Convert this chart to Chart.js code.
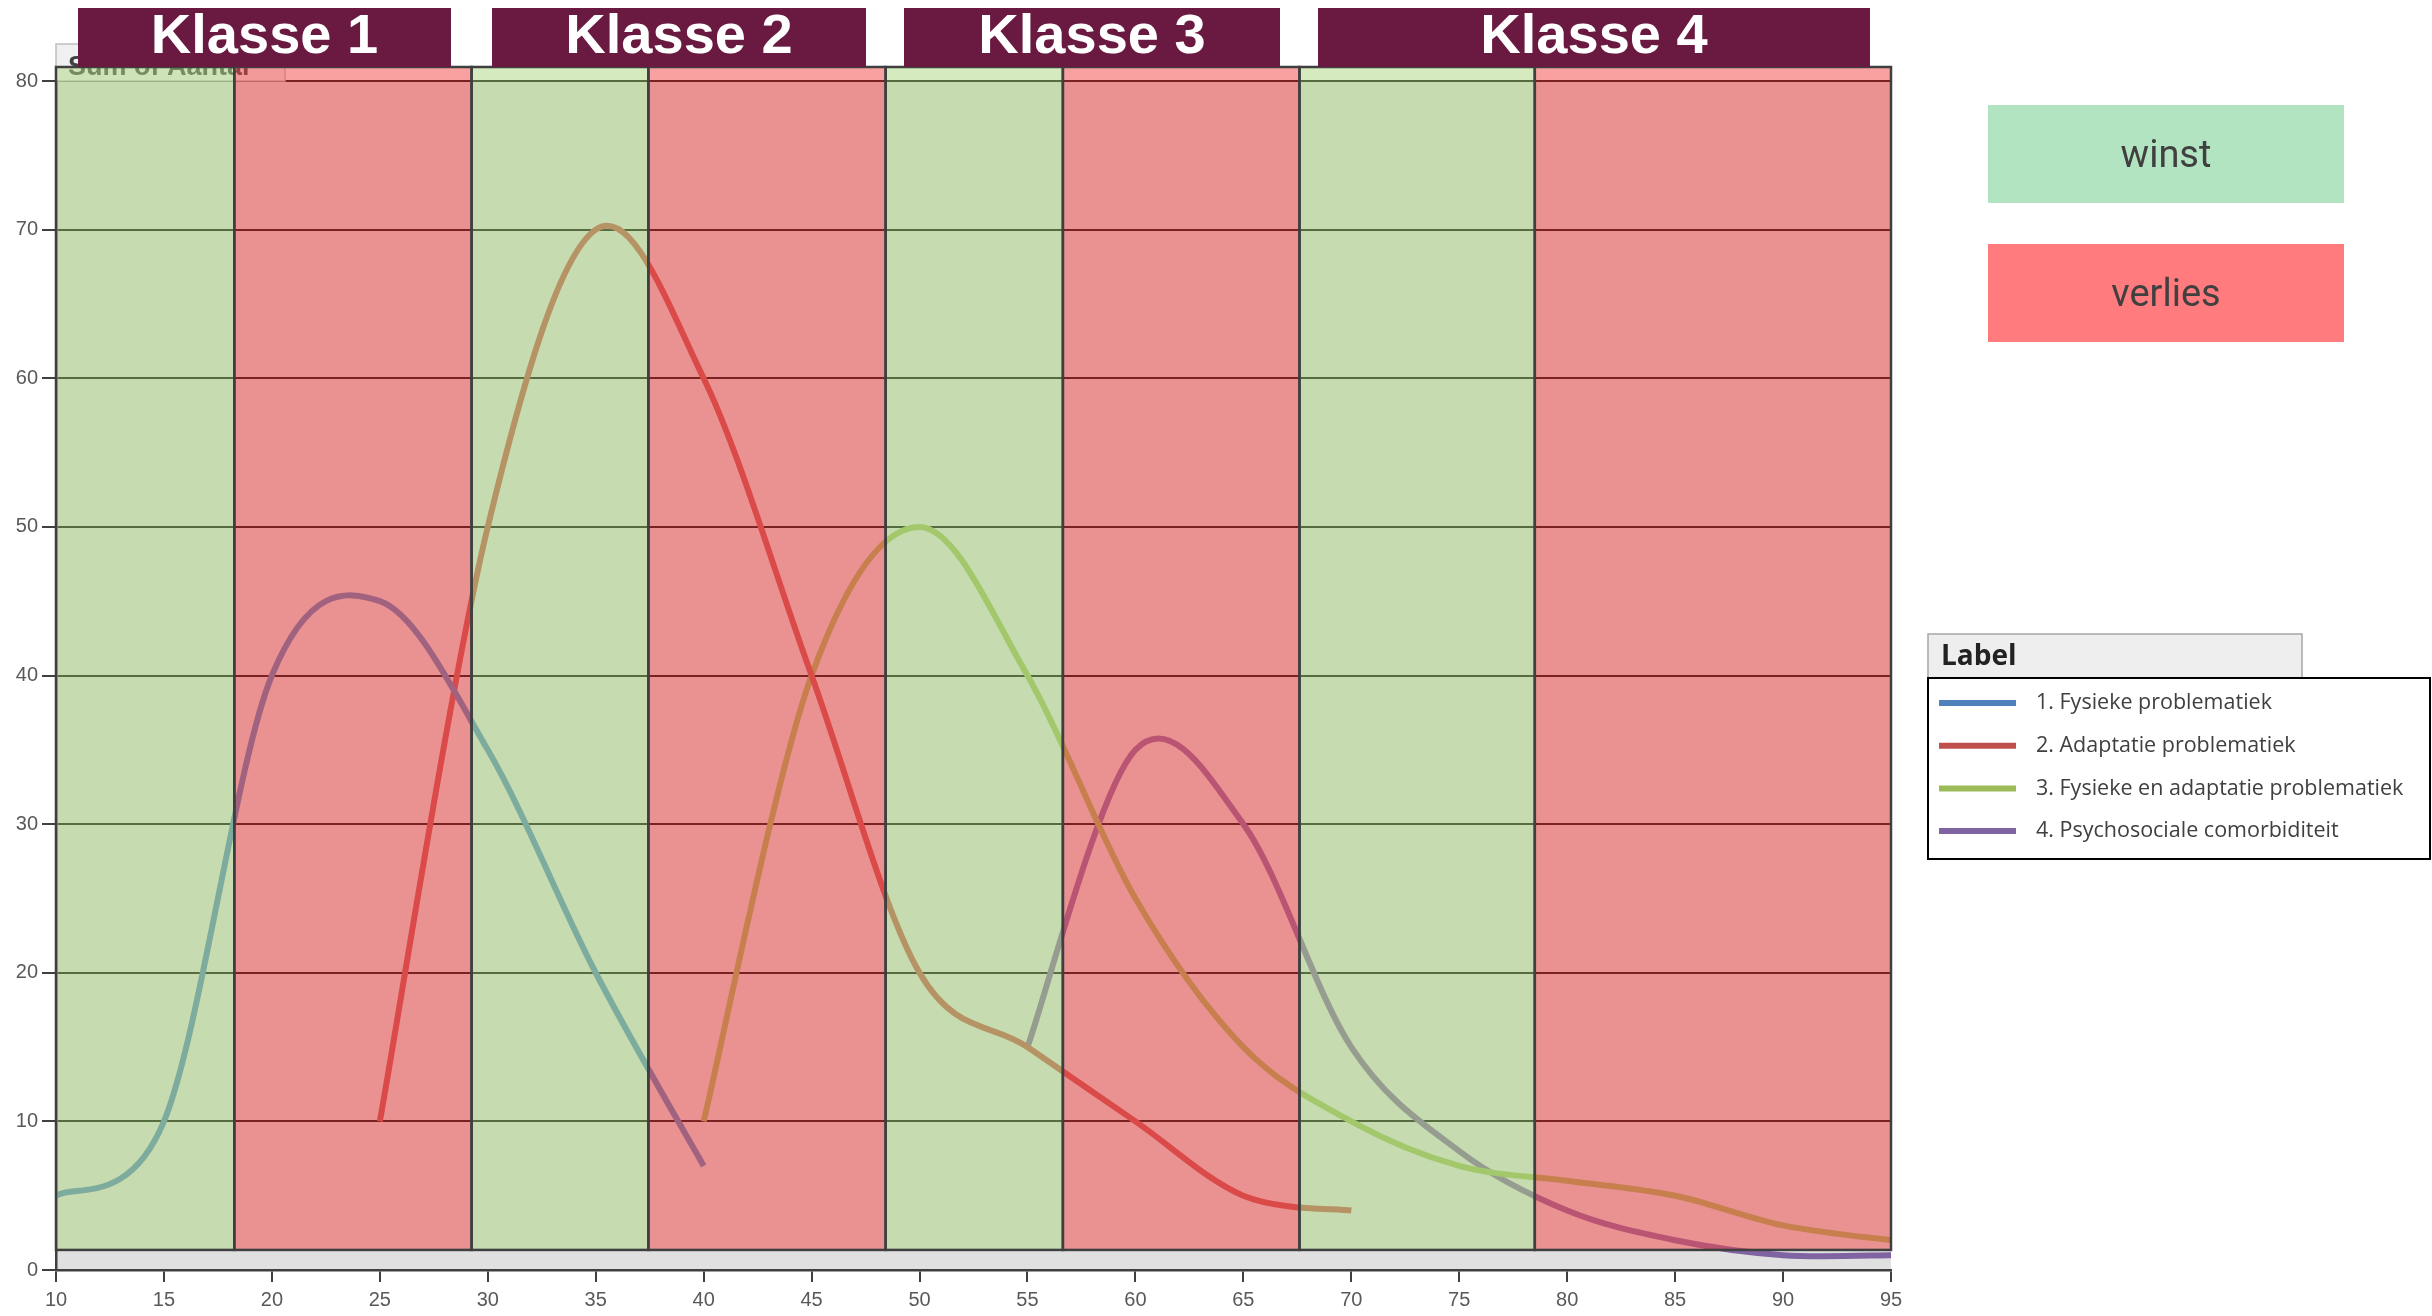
<!DOCTYPE html>
<html>
<head>
<meta charset="utf-8">
<title>Klassen</title>
<script src="https://cdn.jsdelivr.net/npm/chart.js@4.4.1/dist/chart.umd.min.js"></script>
<style>
    html, body { margin: 0; padding: 0; background: #fff; }
    #wrap { width: 2432px; height: 1316px; }
</style>
</head>
<body>
<div id="wrap"><canvas id="myCanvas" width="2432" height="1316"></canvas></div>
<script>
// REEKSEN: x = leeftijd, y = aantal
const xFysiek = [10, 15, 20, 25, 30, 35, 40];
const yFysiek = [5, 10, 40, 45, 35, 20, 7];

const xAdaptatie = [25, 30, 35, 40, 45, 50, 55, 60, 65, 70];
const yAdaptatie = [10, 50, 70, 60, 40, 20, 15, 10, 5, 4];

const xBeide = [40, 45, 50, 55, 60, 65, 70, 75, 80, 85, 90, 95];
const yBeide = [10, 40, 50, 40, 25, 15, 10, 7, 6, 5, 3, 2];

const xPsycho = [55, 60, 65, 70, 75, 80, 85, 90, 95];
const yPsycho = [15, 35, 30, 15, 8, 4, 2, 1, 1];

const reeksNamen = [
    "1. Fysieke problematiek",
    "2. Adaptatie problematiek",
    "3. Fysieke en adaptatie problematiek",
    "4. Psychosociale comorbiditeit",
];
const reeksKleuren = ["#4F81BD", "#C0504D", "#9BBB59", "#8064A2"];

const xTicks = [10, 15, 20, 25, 30, 35, 40, 45, 50, 55, 60, 65, 70, 75, 80, 85, 90, 95];
const yTicks = [0, 10, 20, 30, 40, 50, 60, 70, 80];

// winst / verlies zones op de x-as
const zoneGrenzen = [10, 18.26, 29.25, 37.44, 48.43, 56.64, 67.6, 78.5, 95];
const zoneSoort = ["winst", "verlies", "winst", "verlies", "winst", "verlies", "winst", "verlies"];

const klassen = ["Klasse 1", "Klasse 2", "Klasse 3", "Klasse 4"];

function toPoints(xs, ys) {
    return xs.map((x, i) => ({ x: x, y: ys[i] }));
}

const reeksen = [
    toPoints(xFysiek, yFysiek),
    toPoints(xAdaptatie, yAdaptatie),
    toPoints(xBeide, yBeide),
    toPoints(xPsycho, yPsycho),
];

const tekstGrijs = "#595959";

// gladde lijn zoals in Excel: controlepunten op 1/6 van buur tot buur
const gladPlugin = {
    id: "glad",
    beforeDatasetDraw(chart, args) {
        const line = args.meta.dataset;
        if (line.updateControlPoints) {
            line.updateControlPoints(chart.chartArea, "x");
        }
        const pts = args.meta.data;
        for (let i = 0; i < pts.length; i++) {
            const p = pts[i];
            const prev = pts[i - 1] || p;
            const next = pts[i + 1] || p;
            const dx = (next.x - prev.x) / 6;
            const dy = (next.y - prev.y) / 6;
            p.cp1x = p.x - dx;
            p.cp1y = p.y - dy;
            p.cp2x = p.x + dx;
            p.cp2y = p.y + dy;
        }
        line._path = undefined;
    },
};

// ACHTERGROND, ZONES, KOPPEN EN LEGENDA
const zonePlugin = {
    id: "zones",
    beforeDraw(chart) {
        const { ctx, chartArea: a } = chart;
        ctx.save();
        ctx.fillStyle = "#ffffff";
        ctx.fillRect(0, 0, chart.width, chart.height);
        ctx.fillStyle = "#E0E0E0";
        ctx.fillRect(a.left, a.top, a.right - a.left, a.bottom - a.top);
        ctx.restore();
    },
    afterDatasetsDraw(chart) {
        const { ctx, chartArea: a } = chart;
        const x = chart.scales.x;
        const y = chart.scales.y;

        // veldknop van de draaitabel
        ctx.save();
        ctx.fillStyle = "#F0F0F0";
        ctx.fillRect(a.left, 44, 229, a.top - 44);
        ctx.strokeStyle = "#BFBFBF";
        ctx.lineWidth = 1.5;
        ctx.strokeRect(a.left, 44, 229, a.top - 44);
        ctx.fillStyle = "#404040";
        ctx.font = "bold 27px 'Liberation Sans'";
        ctx.textBaseline = "alphabetic";
        ctx.fillText("Sum of Aantal", a.left + 12, 75);
        ctx.restore();

        const top = a.top - 14;
        const bottom = y.getPixelForValue(1.35);
        ctx.save();
        for (let i = 0; i < zoneSoort.length; i++) {
            const x0 = x.getPixelForValue(zoneGrenzen[i]);
            const x1 = x.getPixelForValue(zoneGrenzen[i + 1]);
            ctx.fillStyle = zoneSoort[i] === "winst" ? "rgba(172, 214, 126, 0.5)" : "rgba(244, 68, 68, 0.5)";
            ctx.fillRect(x0, top, x1 - x0, bottom - top);
        }
        ctx.strokeStyle = "#3F3F3F";
        ctx.lineWidth = 2.5;
        for (let i = 0; i < zoneSoort.length; i++) {
            const x0 = x.getPixelForValue(zoneGrenzen[i]);
            const x1 = x.getPixelForValue(zoneGrenzen[i + 1]);
            ctx.strokeRect(x0, top, x1 - x0, bottom - top);
        }
        ctx.restore();
    },
    afterDraw(chart) {
        const { ctx } = chart;
        ctx.save();

        // klasse koppen
        const kopX = [[78, 451], [492, 866], [904, 1280], [1318, 1870]];
        klassen.forEach((k, i) => {
            ctx.fillStyle = "#6A1A41";
            ctx.fillRect(kopX[i][0], 8, kopX[i][1] - kopX[i][0], 59);
            ctx.fillStyle = "#ffffff";
            ctx.font = "bold 56px 'Liberation Sans'";
            ctx.textAlign = "center";
            ctx.textBaseline = "middle";
            ctx.fillText(k, (kopX[i][0] + kopX[i][1]) / 2, 38);
        });

        // winst / verlies blokken
        const blokken = [
            { tekst: "winst", kleur: "#B2E4C2", y: 105 },
            { tekst: "verlies", kleur: "#FF7B7E", y: 244 },
        ];
        blokken.forEach((b) => {
            ctx.fillStyle = b.kleur;
            ctx.fillRect(1988, b.y, 356, 98);
            ctx.fillStyle = "#404040";
            ctx.font = "38px Roboto";
            ctx.textAlign = "center";
            ctx.textBaseline = "middle";
            ctx.fillText(b.tekst, 2166, b.y + 52);
        });

        // legenda
        ctx.fillStyle = "#EEEEEE";
        ctx.fillRect(1928, 634, 374, 44);
        ctx.strokeStyle = "#A6A6A6";
        ctx.lineWidth = 1.5;
        ctx.strokeRect(1928, 634, 374, 44);
        ctx.fillStyle = "#222222";
        ctx.font = "bold 28px 'Open Sans'";
        ctx.textAlign = "left";
        ctx.textBaseline = "middle";
        ctx.fillText("Label", 1941, 657);

        ctx.fillStyle = "#ffffff";
        ctx.fillRect(1928, 678, 502, 181);
        ctx.strokeStyle = "#000000";
        ctx.lineWidth = 2;
        ctx.strokeRect(1928, 678, 502, 181);

        chart.data.datasets.forEach((ds, i) => {
            const ly = 703 + i * 42.7;
            ctx.strokeStyle = ds.borderColor;
            ctx.lineWidth = 6;
            ctx.beginPath();
            ctx.moveTo(1939, ly);
            ctx.lineTo(2016, ly);
            ctx.stroke();
            ctx.fillStyle = "#404040";
            ctx.font = "21.5px 'Open Sans'";
            ctx.fillText(ds.label, 2036, ly);
        });
        ctx.restore();
    },
};

const ctx = document.getElementById("myCanvas").getContext("2d");

const chart = new Chart(ctx, {
    type: "line",
    data: {
        datasets: reeksen.map((punten, i) => ({
            label: reeksNamen[i],
            data: punten,
            borderColor: reeksKleuren[i],
            backgroundColor: reeksKleuren[i],
            borderWidth: 6,
            pointRadius: 0,
            tension: 0.4,
            fill: false,
        })),
    },
    options: {
        responsive: false,
        animation: false,
        layout: { padding: { top: 81, right: 541, bottom: 0, left: 0 } },
        plugins: {
            legend: { display: false },
            tooltip: { enabled: false },
        },
        scales: {
            x: {
                type: "linear",
                min: 10,
                max: 95,
                afterBuildTicks: (s) => { s.ticks = xTicks.map((v) => ({ value: v })); },
                afterFit: (s) => { s.height = 46; },
                grid: { drawOnChartArea: false, drawTicks: true, tickLength: 12, color: "#404040", lineWidth: 2 },
                border: { color: "#404040", width: 2.5 },
                ticks: { color: tekstGrijs, font: { family: "'Liberation Sans'", size: 20 }, padding: 6, maxRotation: 0, autoSkip: false },
            },
            y: {
                min: 0,
                max: 80,
                afterBuildTicks: (s) => { s.ticks = yTicks.map((v) => ({ value: v })); },
                afterFit: (s) => { s.width = 56; },
                grid: { color: "#000000", lineWidth: 2, tickLength: 14, tickColor: "#404040" },
                border: { color: "#404040", width: 2.5 },
                ticks: { color: tekstGrijs, font: { family: "'Liberation Sans'", size: 20 }, padding: 4 },
            },
        },
    },
    plugins: [gladPlugin, zonePlugin],
});
</script>
</body>
</html>
